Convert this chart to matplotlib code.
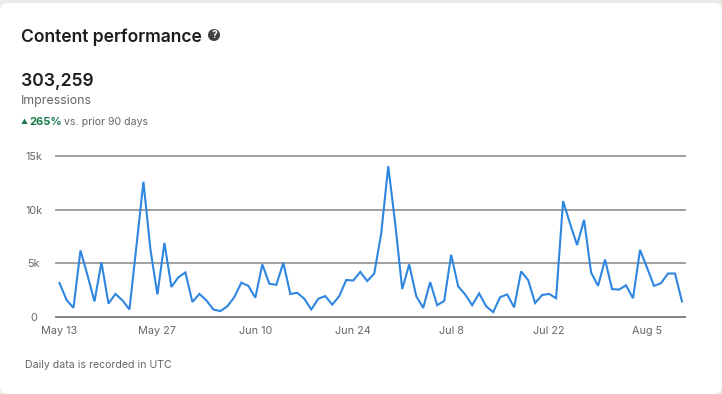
import matplotlib
matplotlib.use('Agg')
import matplotlib.pyplot as plt
import pandas as pd
from matplotlib.patches import FancyBboxPatch, Circle

# --- data ---
start_date = '2024-05-13'
impressions = [3.17, 1.6, 0.85, 6.2, 3.9, 1.45, 5.1, 1.25, 2.15, 1.55,
               0.7, 6.6, 12.6, 6.3, 2.1, 6.9, 2.8, 3.7, 4.15, 1.4,
               2.15, 1.55, 0.7, 0.55, 1.0, 1.85, 3.2, 2.9, 1.8, 4.9,
               3.1, 3.0, 5.05, 2.15, 2.25, 1.7, 0.7, 1.7, 1.95, 1.15,
               1.95, 3.45, 3.4, 4.2, 3.35, 4.05, 7.8, 14.05, 8.7, 2.6,
               4.9, 1.95, 0.85, 3.25, 1.1, 1.5, 5.8, 2.85, 2.1, 1.1,
               2.2, 1.0, 0.45, 1.85, 2.1, 0.9, 4.25, 3.45, 1.3, 2.05,
               2.15, 1.75, 10.8, 8.7, 6.7, 9.05, 4.15, 2.9, 5.35, 2.6,
               2.55, 2.95, 1.75, 6.25, 4.6, 2.9, 3.15, 4.05, 4.05, 1.45]
y_ticks = [0, 5, 10, 15]
y_labels = ['0', '5k', '10k', '15k']
x_tick_idx = [0, 14, 28, 42, 56, 70, 84]
x_labels = ['May 13', 'May 27', 'Jun 10', 'Jun 24', 'Jul 8', 'Jul 22', 'Aug 5']

W, H = 722, 394
plt.rcParams['font.family'] = ['Inter', 'DejaVu Sans']

fig = plt.figure(figsize=(W / 100, H / 100), dpi=100, facecolor='#eceae6')

# background layer in pixel coordinates (y going down)
bg = fig.add_axes([0, 0, 1, 1])
bg.set_xlim(0, W)
bg.set_ylim(H, 0)
bg.axis('off')
card = FancyBboxPatch((0, 3), W, H - 3, boxstyle='round,pad=0,rounding_size=8',
                      fc='white', ec='none')
bg.add_patch(card)

# --- header texts ---
bg.text(21, 37, 'Content performance', fontsize=12.6, fontweight='semibold', color='#1d1d1d', va='center')
bg.add_patch(Circle((214, 35), 6, fc='#404040', ec='none'))
bg.text(214, 35.3, '?', fontsize=7.5, fontweight='bold', color='white', ha='center', va='center')
bg.text(21, 81, '303,259', fontsize=12.6, fontweight='semibold', color='#1d1d1d', va='center')
bg.text(21, 101, 'Impressions', fontsize=8.9, color='#666666', va='center')
bg.text(21, 122, '▲', fontsize=5, color='#1a7a4c', va='center')
bg.text(29, 122, '265%', fontsize=8, fontweight='bold', color='#1a7a4c', va='center')
bg.text(64, 122, 'vs. prior 90 days', fontsize=7.6, color='#666666', va='center')
bg.text(25, 365, 'Daily data is recorded in UTC', fontsize=7.6, color='#666666', va='center')

# --- chart ---
ax = fig.add_axes([56 / W, 1 - 317 / H, (685 - 56) / W, (317 - 156) / H])
ax.patch.set_alpha(0)
days = pd.date_range(start_date, periods=len(impressions))
x = range(len(days))
ax.plot(x, impressions, color='#2f86e0', lw=1.5, solid_joinstyle='miter', zorder=3, clip_on=False)
ax.set_xlim(-0.5, 89.43)
ax.set_ylim(0, 15)
ax.set_yticks(y_ticks)
ax.set_yticklabels(y_labels)
ax.set_xticks(x_tick_idx)
ax.set_xticklabels(x_labels)
ax.tick_params(axis='both', length=0, labelsize=7.8, labelcolor='#666666')
ax.tick_params(axis='x', pad=6.2)
ax.tick_params(axis='y', pad=16)
for lbl in ax.get_yticklabels():
    lbl.set_ha('center')
for s in ax.spines.values():
    s.set_visible(False)
ax.grid(axis='y', color='#999999', lw=1.3, zorder=1)
for line in ax.get_ygridlines():
    line.set_clip_on(False)
ax.get_ygridlines()[0].set_color('#777777')

fig.savefig('out.png', dpi=100, facecolor=fig.get_facecolor())
